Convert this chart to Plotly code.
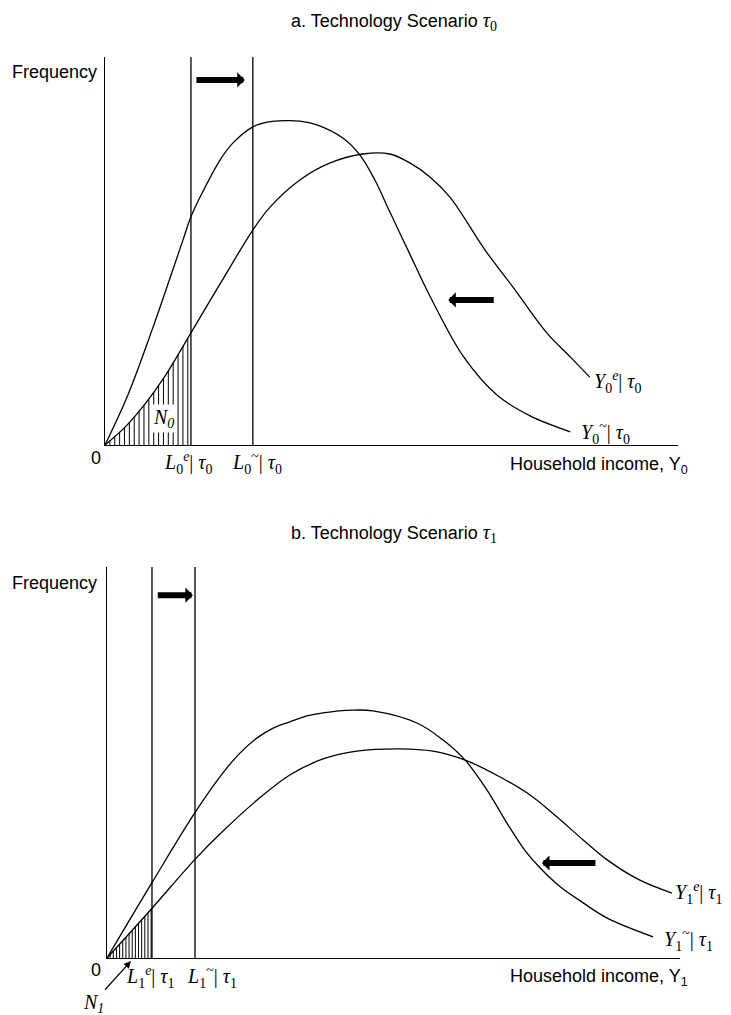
import numpy as np
import plotly.graph_objects as go

W, H = 731, 1015

# ---------------- data (income index 0-100, frequency index 0-100) ----------------
# Panel a: technology scenario tau0
a_inc_tilde = [0, 4.0, 8.2, 13.6, 15.0, 16.6, 20.1, 22.3, 25.8, 28.3, 31.4, 34.0, 37.0, 41.5, 44.5,
               47.1, 49.7, 53.2, 56.7, 62.5, 68.4, 74.2, 81.2]
a_freq_tilde = [0, 12.9, 29.6, 52.8, 58.8, 63.9, 73.5, 77.8, 82.0, 83.2, 83.6, 83.5, 82.5, 79.1, 74.7,
                68.3, 60.1, 49.2, 38.4, 22.9, 12.9, 7.5, 3.4]
a_inc_e = [0, 3.5, 7.0, 10.5, 15.0, 20.4, 25.8, 28.8, 34.0, 39.3, 45.0, 49.7, 53.2, 56.7, 60.2,
           66.3, 71.2, 77.1, 81.2, 84.6]
a_freq_e = [0, 4.6, 10.6, 17.8, 28.9, 42.3, 55.4, 61.3, 68.3, 72.7, 75.0, 75.0, 72.7, 69.1, 63.9,
            50.3, 40.7, 28.9, 22.7, 17.5]
a_thresholds = [15.0, 25.8]          # L0^e, L0~

# Panel b: technology scenario tau1
b_inc_tilde = [0, 7.9, 15.4, 20.2, 23.2, 26.2, 29.0, 31.9, 34.9, 37.7, 42.9, 46.4, 54.1, 58.6, 62.5,
               66.3, 69.8, 72.9, 75.6, 79.1, 83.1, 87.3, 95.3]
b_freq_tilde = [0, 19.4, 37.3, 47.3, 52.4, 56.3, 58.8, 60.4, 61.9, 62.7, 63.4, 63.2, 60.1, 55.8, 50.6,
                43.0, 34.5, 27.6, 23.0, 18.2, 14.1, 10.2, 5.4]
b_inc_e = [0, 7.9, 15.4, 20.2, 26.2, 31.9, 37.7, 43.6, 51.1, 56.9, 62.5, 68.6, 74.3, 78.5, 83.1,
           87.3, 93.0, 98.6]
b_freq_e = [0, 12.8, 25.3, 32.4, 40.4, 46.8, 50.9, 52.9, 53.5, 52.9, 50.6, 46.3, 41.2, 36.1, 30.2,
            25.1, 19.9, 16.6]
b_thresholds = [7.85, 15.36]         # L1^e, L1~

# shift arrows (from income, to income, at frequency)
a_arrows = [(15.7, 24.4, 94.1), (68.1, 59.9, 37.4)]
b_arrows = [(8.6, 15.0, 92.8), (85.5, 75.9, 24.3)]

SANS = "Liberation Sans, Arial, sans-serif"
SERIF = "Liberation Serif, Times New Roman, serif"
LW = 1.3


def px(x):
    return x / W


def py(y):
    return 1 - y / H


fig = go.Figure()


def panel(xr, yr, inc_t, fr_t, inc_e, fr_e, thr, hatch_step):
    for xs, ys in ((inc_t, fr_t), (inc_e, fr_e)):
        fig.add_trace(go.Scatter(x=xs, y=ys, mode="lines", xaxis=xr, yaxis=yr,
                                 line=dict(color="black", width=LW, shape="spline", smoothing=1.0),
                                 hoverinfo="skip", showlegend=False))
    # vertical threshold lines
    vx, vy = [], []
    for t in thr:
        vx += [t, t, None]
        vy += [0, 100, None]
    fig.add_trace(go.Scatter(x=vx, y=vy, mode="lines", xaxis=xr, yaxis=yr,
                             line=dict(color="black", width=LW), hoverinfo="skip", showlegend=False))
    # hatched area under the e-curve up to L^e
    hx, hy = [], []
    for h in np.arange(hatch_step, thr[0], hatch_step):
        top = float(np.interp(h, inc_e, fr_e))
        hx += [h, h, None]
        hy += [0, top, None]
    fig.add_trace(go.Scatter(x=hx, y=hy, mode="lines", xaxis=xr, yaxis=yr,
                             line=dict(color="black", width=1), hoverinfo="skip", showlegend=False))
    return xr, yr


ra = panel("x", "y", a_inc_tilde, a_freq_tilde, a_inc_e, a_freq_e, a_thresholds, 0.85)
rb = panel("x2", "y2", b_inc_tilde, b_freq_tilde, b_inc_e, b_freq_e, b_thresholds, 0.55)

ax_common = dict(range=[0, 100], showgrid=False, zeroline=False, showticklabels=False,
                 ticks="", showline=True, linecolor="black", linewidth=LW, fixedrange=True)
fig.update_layout(
    width=W, height=H, autosize=False,
    margin=dict(l=0, r=0, t=0, b=0),
    paper_bgcolor="white", plot_bgcolor="white",
    showlegend=False,
    xaxis=dict(domain=[px(105), px(678)], anchor="y", **ax_common),
    yaxis=dict(domain=[py(445), py(57)], anchor="x", **ax_common),
    xaxis2=dict(domain=[px(107), px(680)], anchor="y2", **ax_common),
    yaxis2=dict(domain=[py(958), py(567)], anchor="x2", **ax_common),
)

ann = []


def text(x, y, s, size=18, font=SANS, xanchor="center", xref="paper", yref="paper", **kw):
    ann.append(dict(x=x, y=y, xref=xref, yref=yref, text=s, showarrow=False,
                    xanchor=xanchor, yanchor="middle",
                    font=dict(family=font, size=size, color="black"), **kw))


def tau(i):
    return f'<span style="font-family:{SERIF};font-size:20px"><i>τ</i><sub>{i}</sub></span>'


# titles
text(px(289), py(21), "a. Technology Scenario " + tau(0), xanchor="left")
text(px(289), py(533), "b. Technology Scenario " + tau(1), xanchor="left")
# frequency labels
text(px(10), py(72), "Frequency", xanchor="left")
text(px(10), py(583), "Frequency", xanchor="left")
# origins
text(px(96), py(458), "0")
text(px(96), py(970), "0")
# x-axis titles
text(px(690), py(465), "Household income, Y<sub>0</sub>", xanchor="right")
text(px(690), py(977), "Household income, Y<sub>1</sub>", xanchor="right")

# threshold labels
MS = 20
text(px(188), py(463), "<i>L</i><sub>0</sub><sup><i>e</i></sup>| <i>τ</i><sub>0</sub>", size=MS, font=SERIF)
text(px(257), py(463), "<i>L</i><sub>0</sub><sup>~</sup>| <i>τ</i><sub>0</sub>", size=MS, font=SERIF)
text(px(150), py(977), "<i>L</i><sub>1</sub><sup><i>e</i></sup>| <i>τ</i><sub>1</sub>", size=MS, font=SERIF)
text(px(212), py(977), "<i>L</i><sub>1</sub><sup>~</sup>| <i>τ</i><sub>1</sub>", size=MS, font=SERIF)
# curve labels
text(px(592), py(382), "<i>Y</i><sub>0</sub><sup><i>e</i></sup>| <i>τ</i><sub>0</sub>", size=MS, font=SERIF, xanchor="left")
text(px(579), py(433), "<i>Y</i><sub>0</sub><sup>~</sup>| <i>τ</i><sub>0</sub>", size=MS, font=SERIF, xanchor="left")
text(px(673), py(893), "<i>Y</i><sub>1</sub><sup><i>e</i></sup>| <i>τ</i><sub>1</sub>", size=MS, font=SERIF, xanchor="left")
text(px(662), py(940), "<i>Y</i><sub>1</sub><sup>~</sup>| <i>τ</i><sub>1</sub>", size=MS, font=SERIF, xanchor="left")
# N0 label in hatched area
text(px(163), py(418), "<i>N</i><sub><i>0</i></sub>", size=MS, font=SERIF, bgcolor="white", borderpad=1)

# thick shift arrows
for (x0, x1, yv), (xr, yr) in [(a, ra) for a in a_arrows] + [(b, rb) for b in b_arrows]:
    ann.append(dict(x=x1, y=yv, ax=x0, ay=yv, xref=xr, yref=yr, axref=xr, ayref=yr,
                    text="", showarrow=True, arrowhead=1, arrowsize=0.42, arrowwidth=6,
                    arrowcolor="black", standoff=0))

# N1 pointer arrow
ann.append(dict(x=px(131), y=py(961), xref="paper", yref="paper", ax=-38, ay=42,
                text="<i>N</i><sub><i>1</i></sub>", showarrow=True, arrowhead=2, arrowsize=1.2,
                arrowwidth=1.2, arrowcolor="black",
                font=dict(family=SERIF, size=MS, color="black")))

fig.update_layout(annotations=ann)

fig.write_html("out.html", config={"displayModeBar": False, "staticPlot": True},
               post_script="document.body.style.margin='0';")
